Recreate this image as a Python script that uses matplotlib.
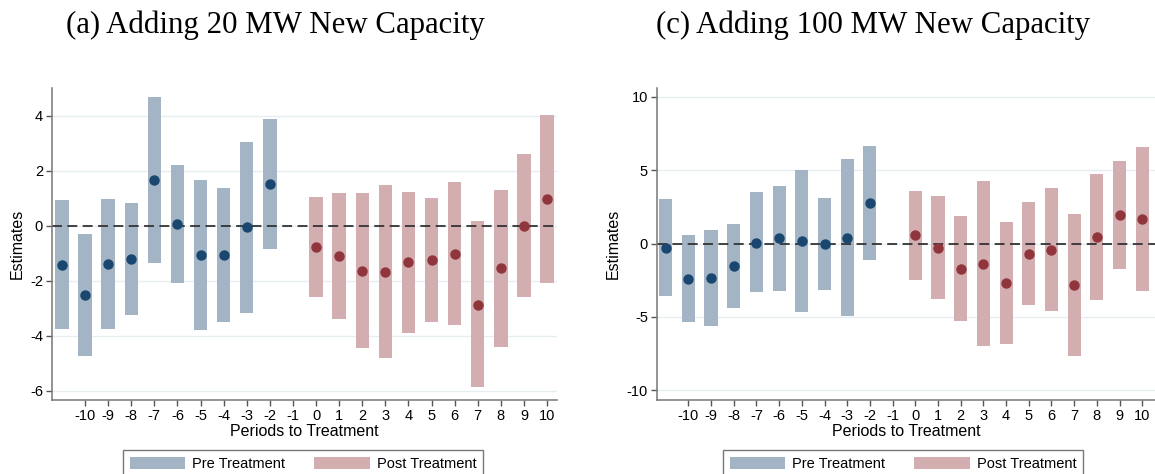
import numpy as np
import matplotlib
matplotlib.use('Agg')
import matplotlib.pyplot as plt
from matplotlib.patches import Patch

# event-time periods (the -11 bin is unlabeled, -1 is the reference period)
pre_periods = [-11, -10, -9, -8, -7, -6, -5, -4, -3, -2]
post_periods = [0, 1, 2, 3, 4, 5, 6, 7, 8, 9, 10]
tick_periods = list(range(-10, 11))

# (a) 20 MW
a_pre_est = [-1.43, -2.52, -1.39, -1.22, 1.64, 0.05, -1.08, -1.08, -0.05, 1.52]
a_pre_lo = [-3.77, -4.74, -3.77, -3.25, -1.37, -2.10, -3.79, -3.51, -3.16, -0.84]
a_pre_hi = [0.93, -0.30, 0.98, 0.81, 4.67, 2.21, 1.66, 1.36, 3.04, 3.87]
a_post_est = [-0.77, -1.11, -1.64, -1.68, -1.33, -1.25, -1.02, -2.87, -1.55, 0.0, 0.97]
a_post_lo = [-2.60, -3.40, -4.46, -4.81, -3.89, -3.50, -3.62, -5.88, -4.40, -2.60, -2.10]
a_post_hi = [1.05, 1.18, 1.19, 1.46, 1.21, 1.00, 1.59, 0.15, 1.31, 2.61, 4.03]

# (c) 100 MW
c_pre_est = [-0.29, -2.41, -2.34, -1.54, 0.07, 0.36, 0.16, -0.05, 0.41, 2.77]
c_pre_lo = [-3.57, -5.36, -5.59, -4.38, -3.27, -3.22, -4.68, -3.18, -4.97, -1.11]
c_pre_hi = [3.03, 0.57, 0.89, 1.32, 3.48, 3.93, 5.02, 3.11, 5.75, 6.64]
c_post_est = [0.55, -0.29, -1.70, -1.36, -2.68, -0.68, -0.43, -2.84, 0.48, 1.93, 1.68]
c_post_lo = [-2.47, -3.81, -5.27, -6.99, -6.86, -4.20, -4.61, -7.68, -3.84, -1.75, -3.22]
c_post_hi = [3.59, 3.23, 1.87, 4.25, 1.48, 2.82, 3.78, 2.00, 4.75, 5.64, 6.57]

NAVY = '#1a476f'
MAROON = '#90353b'
PRE_BAR = '#a3b5c5'
POST_BAR = '#d3aeb1'

plt.rcParams['font.family'] = ['Liberation Sans', 'DejaVu Sans']

fig = plt.figure(figsize=(11.55, 4.74), dpi=100)


def panel(ax, pre, post, yticks, ylim, xlim):
    for x, est, lo, hi, bc, mc in [(pre_periods,) + pre + (PRE_BAR, NAVY),
                                   (post_periods,) + post + (POST_BAR, MAROON)]:
        lo, hi = np.array(lo), np.array(hi)
        ax.bar(x, hi - lo, bottom=lo, width=0.58, color=bc, zorder=2)
        ax.plot(x, est, 'o', color=mc, ms=6.5, zorder=3)
    ax.axhline(0, color='#333333', lw=1.3, ls=(0, (5.5, 3)), zorder=2.5)
    ax.set_xlim(*xlim)
    ax.set_ylim(*ylim)
    ax.set_yticks(yticks)
    ax.set_yticklabels([str(t) for t in yticks])
    ax.set_xticks(tick_periods)
    ax.set_xticklabels([str(t) for t in tick_periods])
    ax.grid(axis='y', color='#e6eef0', lw=1.0, zorder=0)
    ax.set_axisbelow(True)
    for s in ['top', 'right']:
        ax.spines[s].set_visible(False)
    for s in ['left', 'bottom']:
        ax.spines[s].set_color('#777777')
        ax.spines[s].set_linewidth(1.1)
    ax.tick_params(axis='both', direction='out', length=4, width=1,
                   color='#555555', labelsize=10.5, pad=2.5)
    ax.set_ylabel('Estimates', fontsize=11.5, labelpad=4)
    ax.set_xlabel('Periods to Treatment', fontsize=11.5, labelpad=1)


ax1 = fig.add_axes([52 / 1155, 74 / 474, 505 / 1155, 312 / 474])
panel(ax1, (a_pre_est, a_pre_lo, a_pre_hi), (a_post_est, a_post_lo, a_post_hi),
      [-6, -4, -2, 0, 2, 4], (-6.34, 5.0), (-11.43, 10.43))

ax2 = fig.add_axes([657 / 1155, 74 / 474, 498 / 1155, 312 / 474])
panel(ax2, (c_pre_est, c_pre_lo, c_pre_hi), (c_post_est, c_post_lo, c_post_hi),
      [-10, -5, 0, 5, 10], (-10.66, 10.6), (-11.38, 10.56))

handles = [Patch(facecolor=PRE_BAR, edgecolor='none', label='Pre Treatment'),
           Patch(facecolor=POST_BAR, edgecolor='none', label='Post Treatment')]
for lx in [123, 723]:
    leg = fig.legend(handles=handles, loc='upper left',
                     bbox_to_anchor=(lx / 1155, 1 - 450 / 474), ncol=2,
                     fontsize=10.5, frameon=True, fancybox=False,
                     handlelength=3.8, handleheight=0.9, handletextpad=0.5,
                     columnspacing=2.0, borderpad=0.45, borderaxespad=0)
    leg.get_frame().set_edgecolor('#555555')
    leg.get_frame().set_linewidth(1.0)

fig.text(275 / 1155, 1 - 25 / 474, '(a) Adding 20 MW New Capacity',
         ha='center', va='center', fontsize=22.2, family='Liberation Serif')
fig.text(873 / 1155, 1 - 25 / 474, '(c) Adding 100 MW New Capacity',
         ha='center', va='center', fontsize=22.2, family='Liberation Serif')

fig.savefig('out.png', dpi=100)
